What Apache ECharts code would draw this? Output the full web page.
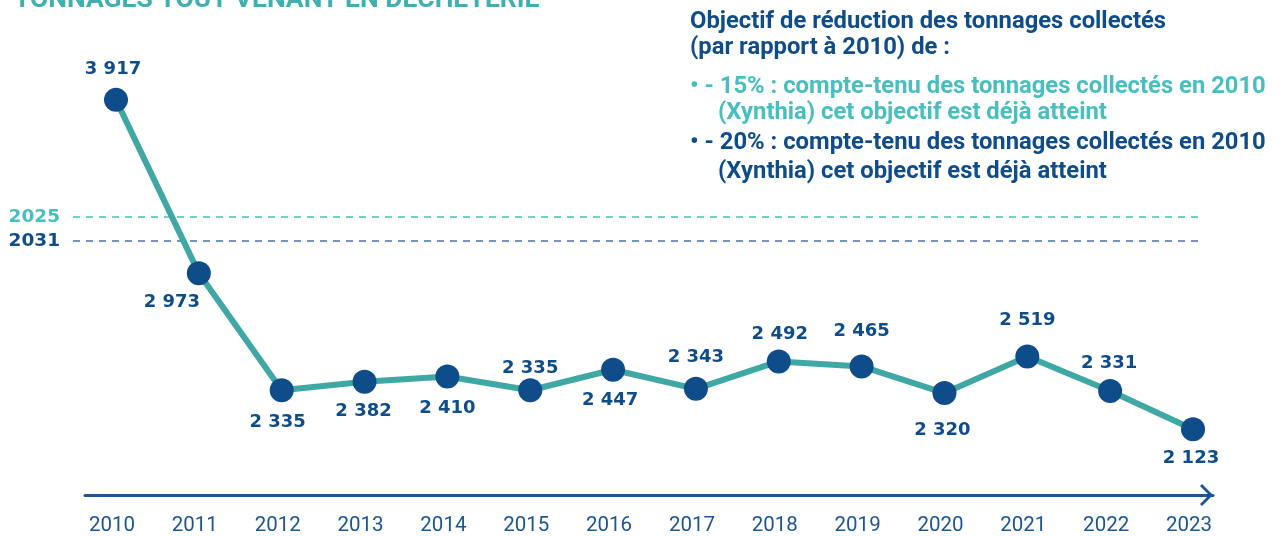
<!DOCTYPE html>
<html><head><meta charset="utf-8">
<script src="https://cdn.jsdelivr.net/npm/echarts@6/dist/echarts.min.js"></script>
<style>html,body{margin:0;padding:0;background:#fff}#c{width:1282px;height:536px}</style>
</head><body><div id="c"></div>
<script>
// ---- data ----
const years = ['2010','2011','2012','2013','2014','2015','2016','2017','2018','2019','2020','2021','2022','2023'];
const tonnages = [3917, 2973, 2335, 2382, 2410, 2335, 2447, 2343, 2492, 2465, 2320, 2519, 2331, 2123];
const targetNames = ['2025', '2031'];
const targetValues = [3280, 3150];
const titleText = 'TONNAGES TOUT-VENANT EN DÉCHÈTERIE';
const noteTitle = ['Objectif de réduction des tonnages collectés', '(par rapport à 2010) de :'];
const note15 = ['• - 15% : compte-tenu des tonnages collectés en 2010', '(Xynthia) cet objectif est déjà atteint'];
const note20 = ['• - 20% : compte-tenu des tonnages collectés en 2010', '(Xynthia) cet objectif est déjà atteint'];

// ---- layout (label offsets relative to each marker) ----
const labelOffsets = [[-3,-31],[-27,29],[-4,32],[-1,30],[0,32],[0,-22],[-3,31],[0,-31],[1,-27],[0,-35],[-2,37],[0,-36],[-1,-28],[-2,29]];

const DARK = '#0f4c8a', TEAL = '#3fa8a4', LIGHTTEAL = '#47bfbf', AXIS = '#1b5595';
const fmt = v => String(v).replace(/\B(?=(\d{3})+(?!\d))/g, ' ');

const Y_MIN = 1770, Y_MAX = 4205;
const chart = echarts.init(document.getElementById('c'), null, {renderer: 'canvas'});

const chevron = 'path://M11,0 L22,11 L20,13 L11,4 L2,13 L0,11 Z';

const noteText = (x, y, text, color) => ({
  type: 'text', x: x, y: y, silent: true,
  style: {text: text, fill: color, font: 'bold 23.8px Roboto', verticalAlign: 'middle', align: 'left'}
});

chart.setOption({
  animation: false,
  backgroundColor: '#fff',
  grid: [
    {left: 116, right: 89, top: 47, bottom: 41},
    {left: 85, right: 69, top: 47, bottom: 41},
    {left: 73, right: 79, top: 47, bottom: 41}
  ],
  xAxis: [
    {type: 'category', gridIndex: 0, data: years, boundaryGap: false,
     axisLine: {show: false}, axisTick: {show: false}, splitLine: {show: false},
     axisLabel: {color: AXIS, fontFamily: 'Roboto', fontSize: 20.5, margin: 21, padding: [0, 8, 0, 0]}},
    {type: 'value', gridIndex: 1, min: 0, max: 1, splitLine: {show: false},
     axisTick: {show: false}, axisLabel: {show: false},
     axisLine: {show: true, onZero: false, symbol: ['none', chevron], symbolSize: [22, 13], symbolOffset: [0, -6.5],
       lineStyle: {color: AXIS, width: 3}}},
    {type: 'value', gridIndex: 2, min: 0, max: 1, show: false}
  ],
  yAxis: [
    {type: 'value', gridIndex: 0, min: Y_MIN, max: Y_MAX, show: false},
    {type: 'value', gridIndex: 1, min: Y_MIN, max: Y_MAX, show: false},
    {type: 'value', gridIndex: 2, min: Y_MIN, max: Y_MAX, show: false}
  ],
  series: [
    {
      type: 'line', xAxisIndex: 2, yAxisIndex: 2, data: [], z: 1, silent: true,
      markLine: {
        silent: true, symbol: ['none', 'none'],
        data: targetValues.map((v, i) => ({
          name: targetNames[i], yAxis: v,
          lineStyle: {color: i === 0 ? LIGHTTEAL : '#4a73a8', type: [7, 6], width: 1.5},
          label: {show: true, position: 'start', distance: 13, formatter: '{b}',
            color: i === 0 ? LIGHTTEAL : DARK, fontFamily: 'DejaVu Sans', fontWeight: 'bold', fontSize: 18.5}
        }))
      }
    },
    {
      type: 'line', xAxisIndex: 0, yAxisIndex: 0, z: 5,
      data: tonnages.map((v, i) => ({
        value: v,
        label: {offset: labelOffsets[i]}
      })),
      symbol: 'circle', symbolSize: 24, showAllSymbol: true,
      lineStyle: {color: TEAL, width: 6},
      itemStyle: {color: DARK, borderWidth: 0},
      label: {show: true, position: 'inside', formatter: p => fmt(p.value),
        color: DARK, fontFamily: 'DejaVu Sans', fontWeight: 'bold', fontSize: 18}
    }
  ],
  graphic: [
    {type: 'text', x: 14, y: 0, silent: true,
     style: {text: titleText, fill: '#3fb0b0', font: 'bold 26.5px Roboto', verticalAlign: 'middle', align: 'left'}},
    noteText(690, 22, noteTitle[0], DARK),
    noteText(690, 48, noteTitle[1], DARK),
    noteText(690, 87, note15[0], LIGHTTEAL),
    noteText(718, 113, note15[1], LIGHTTEAL),
    noteText(690, 143, note20[0], DARK),
    noteText(718, 172, note20[1], DARK)
  ]
});
</script>
</body></html>
